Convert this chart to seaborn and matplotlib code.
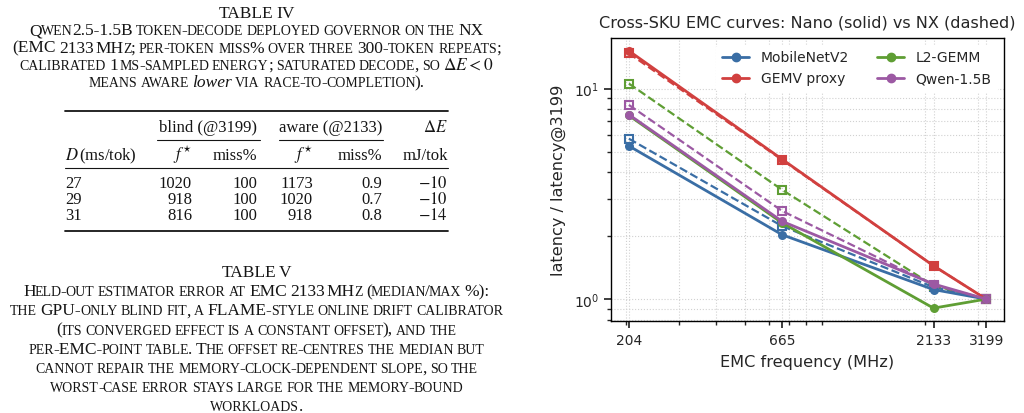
import pandas as pd
import matplotlib
matplotlib.use("Agg")
import matplotlib.pyplot as plt
import seaborn as sns
from matplotlib.lines import Line2D
from matplotlib.ticker import NullFormatter

# =========================
# DATA (chart)
# =========================
freqs = [204, 665, 2133, 3199]
freq_labels = ["204", "665", "2133", "3199"]
workloads = ["MobileNetV2", "GEMV proxy", "L2-GEMM", "Qwen-1.5B"]
colors = ["#3a6ea5", "#d1403f", "#5f9e34", "#9c59a3"]

nano_mobilenet = [5.34, 2.02, 1.11, 1.0]
nano_gemv = [15.1, 4.61, 1.44, 1.0]
nano_l2gemm = [7.45, 2.30, 0.906, 1.0]
nano_qwen = [7.52, 2.34, 1.18, 1.0]

nx_mobilenet = [5.78, 2.22, 1.14, 1.0]
nx_gemv = [14.7, 4.58, 1.44, 1.0]
nx_l2gemm = [10.56, 3.30, 1.16, 1.0]
nx_qwen = [8.36, 2.62, 1.17, 1.0]

# =========================
# DATA (tables)
# =========================
t4_caption = [
    "TABLE IV",
    "Qwen2.5-1.5B token-decode deployed governor on the NX",
    "(EMC 2133~MHz; per-token miss% over three 300-token repeats;",
    r"calibrated 1~ms-sampled energy; saturated decode, so $\Delta{E}<0$",
    "means aware *lower* via race-to-completion).",
]
t4_deadline = [27, 29, 31]
t4_blind_f = [1020, 918, 816]
t4_blind_miss = [100, 100, 100]
t4_aware_f = [1173, 1020, 918]
t4_aware_miss = [0.9, 0.7, 0.8]
t4_delta_e = [-10, -10, -14]

t5_caption = [
    "TABLE V",
    "Held-out estimator error at EMC 2133~MHz (median/max %):",
    "the GPU-only blind fit, a FLAME-style online drift calibrator",
    "(its converged effect is a constant offset), and the",
    "per-EMC-point table. The offset re-centres the median but",
    "cannot repair the memory-clock-dependent slope, so the",
    "worst-case error stays large for the memory-bound",
    "workloads.",
]

rows = []
for board, series in [("Nano", [nano_mobilenet, nano_gemv, nano_l2gemm, nano_qwen]),
                      ("NX", [nx_mobilenet, nx_gemv, nx_l2gemm, nx_qwen])]:
    for wl, vals in zip(workloads, series):
        for f, v in zip(freqs, vals):
            rows.append({"board": board, "workload": wl, "freq": f, "ratio": v})
df = pd.DataFrame(rows)

# =========================
# FIGURE
# =========================
sns.set_theme(style="ticks", rc={
    "font.size": 10, "axes.titlesize": 11.6, "axes.labelsize": 11.6,
    "xtick.labelsize": 10, "ytick.labelsize": 10, "legend.fontsize": 10,
    "axes.edgecolor": "black", "axes.linewidth": 1.0,
    "xtick.major.size": 5, "ytick.major.size": 5,
    "xtick.minor.size": 3, "ytick.minor.size": 3,
})
plt.rcParams["font.family"] = ["DejaVu Sans"]

W, H = 1024, 414
fig = plt.figure(figsize=(W / 100, H / 100), dpi=100)
ax = fig.add_axes([611 / W, 1 - 322 / H, 393 / W, 283 / H])

pal = dict(zip(workloads, colors))
sns.lineplot(data=df[df["board"] == "NX"], x="freq", y="ratio", hue="workload",
             hue_order=workloads, palette=pal, ax=ax, legend=False,
             linestyle="--", linewidth=1.6, marker="s", markersize=6,
             markerfacecolor="none", markeredgewidth=1.5)
sns.lineplot(data=df[df["board"] == "Nano"], x="freq", y="ratio", hue="workload",
             hue_order=workloads, palette=pal, ax=ax, legend=False,
             linewidth=2.0, marker="o", markersize=6.5, markeredgewidth=0)
for ln in ax.lines:
    ln.set_markeredgecolor(ln.get_color())

ax.set_xscale("log")
ax.set_yscale("log")
ax.set_xticks(freqs)
ax.set_xticklabels(freq_labels)
ax.xaxis.set_minor_formatter(NullFormatter())
ax.grid(True, which="both", linestyle=":", color="0.82", linewidth=0.8)
ax.set_title("Cross-SKU EMC curves: Nano (solid) vs NX (dashed)", pad=8)
ax.set_xlabel("EMC frequency (MHz)", labelpad=5)
ax.set_ylabel("latency / latency@3199", labelpad=6)

handles = [Line2D([], [], color=c, lw=2.0, marker="o", ms=6) for c in colors]
ax.legend(handles, workloads, ncol=2, loc="upper right", frameon=True,
          framealpha=1, edgecolor="white", facecolor="white",
          columnspacing=2.0, handlelength=2.0)

# =========================
# TABLES (left side)
# =========================
SERIF = "Liberation Serif"
INK = "#151515"
CAP = 12.5
SC = 0.80
renderer = fig.canvas.get_renderer()


def put(x, y, s, size, ha="left", style="normal"):
    return fig.text(x / W, 1 - y / H, s, fontsize=size, family=SERIF, style=style,
                    ha=ha, va="baseline", math_fontfamily="stix", color=INK)


def width_of(t):
    return t.get_window_extent(renderer).width


def caption_line(line, cx, y, size):
    # fake small caps: lowercase letters drawn as smaller capitals
    words = []
    for word in line.split(" "):
        runs = []
        if word.startswith("$"):
            runs.append((word, 1.0, "normal"))
        elif word.startswith("*"):
            runs.append((word.strip("*"), 1.0, "italic"))
        else:
            buf, low = "", None
            for ch in word:
                if ch == "~":
                    if buf:
                        runs.append((buf.upper(), SC if low else 1.0, "normal"))
                    runs.append(("~", 1.0, "normal"))
                    buf, low = "", None
                    continue
                il = ch.islower()
                if low is not None and il != low and buf:
                    runs.append((buf.upper(), SC if low else 1.0, "normal"))
                    buf = ""
                buf += ch
                low = il
            if buf:
                runs.append((buf.upper(), SC if low else 1.0, "normal"))
        words.append(runs)

    a = put(0, 0, "n n", size)
    b = put(0, 0, "nn", size)
    space = width_of(a) - width_of(b)
    a.remove()
    b.remove()
    thin = 0.17 * size * 100 / 72

    placed = []
    total = 0
    for wi, runs in enumerate(words):
        if wi:
            total += space
        for text, fac, style in runs:
            if text == "~":
                total += thin
                continue
            t = put(0, 0, text, size * fac, style=style)
            placed.append((t, total))
            total += width_of(t) - 1.0
    x0 = cx - total / 2
    for t, off in placed:
        t.set_position(((x0 + off) / W, 1 - y / H))


for i, line in enumerate(t4_caption):
    caption_line(line, 256, 18 + i * 17.3, CAP)

for i, line in enumerate(t5_caption):
    caption_line(line, 256, 277 + i * 19.2, CAP)


def rule(x0, x1, y, lw):
    fig.add_artist(Line2D([x0 / W, x1 / W], [1 - y / H, 1 - y / H],
                          transform=fig.transFigure, color=INK, lw=lw))


TS = 12.0
rule(65, 448, 112, 1.3)
rule(157, 260, 141, 0.8)
rule(279, 383, 141, 0.8)
rule(65, 448, 169, 0.8)
rule(65, 448, 232, 1.3)

put(208, 132, "blind (@3199)", TS, ha="center")
put(331, 132, "aware (@2133)", TS, ha="center")
put(448, 132, r"$\Delta E$", TS, ha="right")
put(65, 160, r"$D\,$(ms/tok)", TS)
put(192, 160, r"$f^{\star}$", TS, ha="right")
put(257, 160, "miss%", TS, ha="right")
put(313, 160, r"$f^{\star}$", TS, ha="right")
put(382, 160, "miss%", TS, ha="right")
put(448, 160, "mJ/tok", TS, ha="right")

for i in range(len(t4_deadline)):
    y = 188 + i * 16
    put(65, y, str(t4_deadline[i]), TS)
    put(192, y, str(t4_blind_f[i]), TS, ha="right")
    put(257, y, str(t4_blind_miss[i]), TS, ha="right")
    put(313, y, str(t4_aware_f[i]), TS, ha="right")
    put(382, y, f"{t4_aware_miss[i]:.1f}", TS, ha="right")
    put(448, y, "$%d$" % t4_delta_e[i], TS, ha="right")

fig.savefig("out.png", dpi=100)
